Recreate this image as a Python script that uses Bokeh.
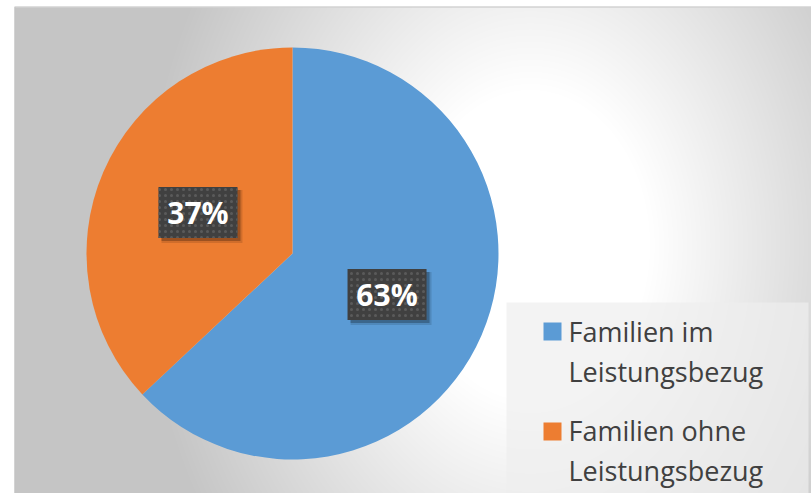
import numpy as np
from bokeh.plotting import figure
from bokeh.models import Range1d
from bokeh.core.properties import value
from bokeh.embed import file_html
from bokeh.resources import INLINE

# ---- data ----
categories = ["Familien im Leistungsbezug", "Familien ohne Leistungsbezug"]
shares = [63, 37]
colors = ["#5B9BD5", "#ED7D31"]

W, H = 811, 493
p = figure(width=W, height=H, x_range=Range1d(0, W), y_range=Range1d(0, H),
           output_backend="svg", toolbar_location=None,
           x_axis_location=None, y_axis_location=None, min_border=0)
p.grid.visible = False
p.outline_line_color = None
p.background_fill_color = "white"
p.border_fill_color = "white"

# ---- background radial gradient (chart area) ----
x0, y0pix = 14, 7
bw, bh = W - x0, H - y0pix
xs = x0 + np.arange(bw) + 0.5
ys_pix = H - (np.arange(bh) + 0.5)      # row 0 = bottom
XX, YY = np.meshgrid(xs, ys_pix)
gcx, gcy = 530.0, 245.0
d = np.sqrt((XX - gcx) ** 2 + ((YY - gcy) / 1.3) ** 2)
t = np.clip((d - 120.0) / 270.0, 0, 1)
v = (255 - 58 * t).astype(np.uint32)
img = np.empty((bh, bw), dtype=np.uint32)
view = img.view(dtype=np.uint8).reshape((bh, bw, 4))
view[:, :, 0] = v
view[:, :, 1] = v
view[:, :, 2] = v
view[:, :, 3] = 255
p.image_rgba(image=[img], x=x0, y=0, dw=bw, dh=bh)
p.line(x=[x0, W], y=[H - 6.5, H - 6.5], line_color="#bcbcbc", line_width=1)
p.line(x=[x0 + 0.5, x0 + 0.5], y=[0, H - 6.5], line_color="#c4c4c4", line_width=1)

# ---- pie ----
cx, cy, R = 292, H - 253, 206
tot = float(sum(shares))
frac = np.array(shares) / tot
ends = 90 - np.cumsum(frac) * 360
starts = np.concatenate([[90.0], ends[:-1]])
p.wedge(x=cx, y=cy, radius=R,
        start_angle=np.radians(ends), end_angle=np.radians(starts),
        fill_color=colors, line_color=None)

# ---- data labels ----
mid = np.radians((starts + ends) / 2)
lx = cx + 0.5 * R * np.cos(mid)
ly = cy + 0.5 * R * np.sin(mid)
labels = [f"{round(s / tot * 100)}%" for s in shares]
bwid, bhei = 79, 51
p.rect(x=lx + 4, y=ly - 4, width=bwid + 2, height=bhei + 2,
       fill_color="black", fill_alpha=0.12, line_color=None)
p.rect(x=lx + 3, y=ly - 3, width=bwid, height=bhei,
       fill_color="black", fill_alpha=0.25, line_color=None)
p.rect(x=lx, y=ly, width=bwid, height=bhei, fill_color="#404040",
       line_color=None, hatch_pattern="dot", hatch_color="#5a5a5a",
       hatch_scale=6, hatch_weight=2)
p.text(x=lx, y=ly, text=labels, text_color="white",
       text_font=value("Open Sans"), text_font_style="bold",
       text_font_size="30px", text_align="center", text_baseline="middle")

# ---- legend ----
p.quad(left=506, right=808, bottom=0, top=H - 302,
       fill_color="#eeeeee", fill_alpha=0.7, line_color=None)
leg_top = [H - 331, H - 431]
p.rect(x=[552] * len(categories), y=leg_top, width=18, height=18,
       fill_color=colors, line_color=None)
line1 = [c.rsplit(" ", 1)[0] for c in categories]
line2 = [c.rsplit(" ", 1)[1] for c in categories]
p.text(x=[568] * len(categories), y=[H - 331, H - 430], text=line1,
       text_color="#404040", text_font=value("Open Sans"),
       text_font_size="27px", text_baseline="alphabetic")
p.text(x=[568] * len(categories), y=[H - 371, H - 470], text=line2,
       text_color="#404040", text_font=value("Open Sans"),
       text_font_size="27px", text_baseline="alphabetic")

open("out.html", "w").write(file_html(p, INLINE))
